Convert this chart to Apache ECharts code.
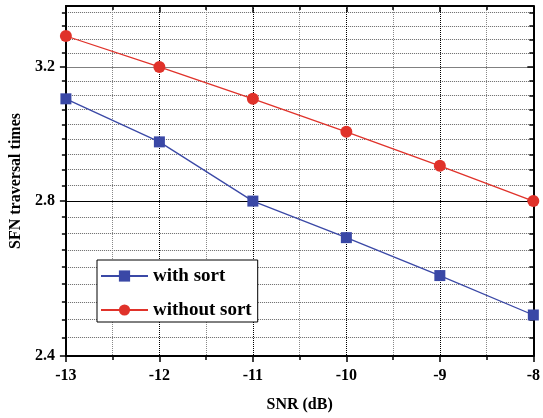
<!DOCTYPE html>
<html>
<head>
<meta charset="utf-8">
<script src="https://cdn.jsdelivr.net/npm/echarts@6/dist/echarts.min.js"></script>
<style>
html,body{margin:0;padding:0;background:#fff;}
#chart{width:543px;height:418px;}
</style>
</head>
<body>
<div id="chart"></div>
<script>
var snr = [-13, -12, -11, -10, -9, -8];
var withSort = [3.10, 2.97, 2.80, 2.70, 2.60, 2.50];
var withoutSort = [3.30, 3.20, 3.10, 3.00, 2.90, 2.80];
var yMajorTicks = [2.4, 2.8, 3.2];
var yMinorTicks = [2.444, 2.489, 2.533, 2.578, 2.622, 2.667, 2.711, 2.756,
                   2.844, 2.889, 2.933, 2.978, 3.022, 3.067, 3.111, 3.156,
                   3.244, 3.289, 3.333, 3.378];
var seriesNames = ['with sort', 'without sort'];

var FONT = '"Liberation Serif", "Times New Roman", serif';
var BLUE = '#3a48a6';
var RED = '#e0322a';

function pairs(xs, ys) { return xs.map(function (x, i) { return [x, ys[i]]; }); }

var chart = echarts.init(document.getElementById('chart'), null, {renderer: 'canvas'});

var xBase = {
  type: 'value', min: -13, max: -8, interval: 1,
  axisLine: {show: true, onZero: false, lineStyle: {color: '#000', width: 2}},
  minorTick: {show: true, splitNumber: 2, length: 4, lineStyle: {color: '#000', width: 1.5}}
};

var yLogBase = {
  type: 'log', logBase: 10, min: 2.4, max: 3.4
};

var option = {
  animation: false,
  backgroundColor: '#fff',
  grid: {left: 62, right: 4, top: 6, bottom: 62, containLabel: false},
  legend: {
    data: seriesNames,
    orient: 'vertical',
    left: 97, top: 260,
    padding: [6, 6, 2, 3],
    itemGap: 14,
    itemWidth: 47, itemHeight: 14,
    backgroundColor: '#fff',
    borderColor: '#000', borderWidth: 1,
    textStyle: {fontFamily: FONT, fontWeight: 'bold', fontSize: 19, color: '#000', lineHeight: 20}
  },
  xAxis: [
    Object.assign({}, xBase, {
      position: 'bottom',
      name: 'SNR (dB)', nameLocation: 'middle', nameGap: 41,
      nameTextStyle: {fontFamily: FONT, fontWeight: 'bold', fontSize: 16, color: '#000'},
      axisTick: {show: true, inside: false, length: 6, lineStyle: {color: '#000', width: 1.5}},
      minorTick: {show: true, splitNumber: 2, length: 4, lineStyle: {color: '#000', width: 1.5}},
      axisLabel: {show: true, margin: 12, fontFamily: FONT, fontWeight: 'bold', fontSize: 16, color: '#000'},
      splitLine: {show: true, lineStyle: {color: '#000', type: 'dotted', width: 1}},
      minorSplitLine: {show: true, lineStyle: {color: '#888', type: 'dotted', width: 1}}
    }),
    Object.assign({}, xBase, {
      position: 'top',
      axisTick: {show: true, inside: true, length: 6, lineStyle: {color: '#000', width: 1.5}},
      minorTick: {show: true, splitNumber: 2, length: 4, lineStyle: {color: '#000', width: 1.5}},
      axisLabel: {show: false},
      splitLine: {show: false},
      minorSplitLine: {show: false}
    })
  ],
  yAxis: [
    Object.assign({}, yLogBase, {
      position: 'left',
      name: 'SFN traversal times', nameLocation: 'middle', nameGap: 38,
      nameTextStyle: {fontFamily: FONT, fontWeight: 'bold', fontSize: 16, color: '#000'},
      axisLine: {show: true, lineStyle: {color: '#000', width: 2}},
      axisTick: {show: true, inside: false, length: 6, customValues: yMajorTicks, lineStyle: {color: '#000', width: 1.5}},
      axisLabel: {show: true, margin: 11, customValues: yMajorTicks, fontFamily: FONT, fontWeight: 'bold', fontSize: 16, color: '#000',
                  formatter: function (v) { return v.toFixed(1); }},
      splitLine: {show: true, lineStyle: {color: ['#000', '#000', '#808080'], type: 'solid', width: 1.2}}
    }),
    Object.assign({}, yLogBase, {
      position: 'left',
      axisLine: {show: false},
      axisTick: {show: true, inside: false, length: 4, customValues: yMinorTicks, lineStyle: {color: '#000', width: 1.5}},
      axisLabel: {show: false},
      splitLine: {show: true, lineStyle: {color: '#666', type: 'dotted', width: 1}}
    }),
    Object.assign({}, yLogBase, {
      position: 'right',
      axisLine: {show: true, lineStyle: {color: '#000', width: 2}},
      axisTick: {show: true, inside: true, length: 4, customValues: yMinorTicks, lineStyle: {color: '#000', width: 1.5}},
      axisLabel: {show: false},
      splitLine: {show: false}
    }),
    Object.assign({}, yLogBase, {
      position: 'right',
      axisLine: {show: false},
      axisTick: {show: true, inside: true, length: 6, customValues: yMajorTicks, lineStyle: {color: '#000', width: 1.5}},
      axisLabel: {show: false},
      splitLine: {show: false}
    })
  ],
  series: [
    {
      name: seriesNames[0], type: 'line', xAxisIndex: 0, yAxisIndex: 0,
      data: pairs(snr, withSort),
      symbol: 'rect', symbolSize: 11,
      lineStyle: {color: BLUE, width: 1.3},
      itemStyle: {color: BLUE},
      clip: false, z: 5
    },
    {
      name: seriesNames[1], type: 'line', xAxisIndex: 0, yAxisIndex: 0,
      data: pairs(snr, withoutSort),
      symbol: 'circle', symbolSize: 12,
      lineStyle: {color: RED, width: 1.3},
      itemStyle: {color: RED},
      clip: false, z: 5
    }
  ]
};
chart.setOption(option);
</script>
</body>
</html>
